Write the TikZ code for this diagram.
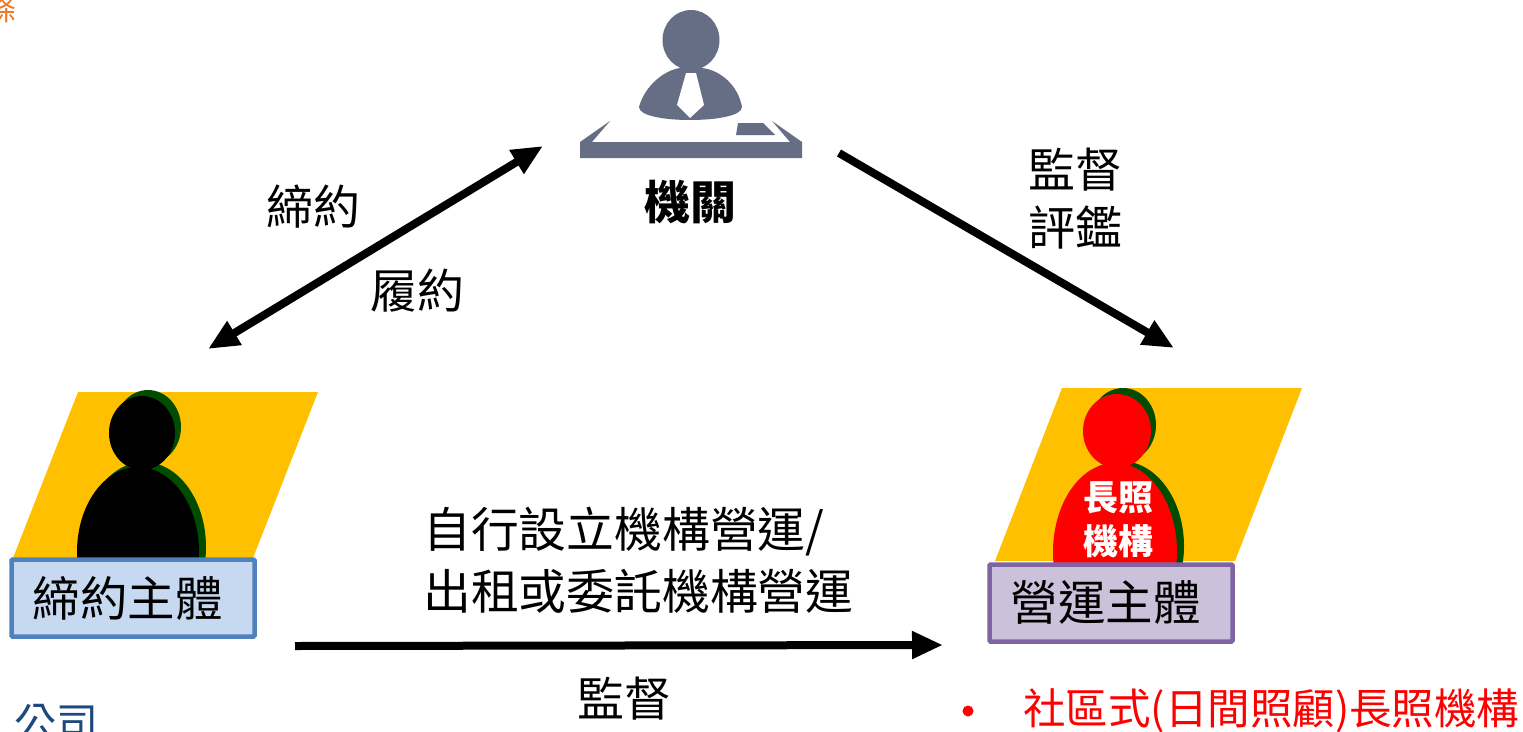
\documentclass[tikz,border=0pt]{standalone}
\usepackage{fontspec}
\usetikzlibrary{arrows.meta}
\setmainfont{Noto Sans CJK TC}
\definecolor{slate}{HTML}{656E84}
\definecolor{gold}{HTML}{FFC000}
\definecolor{shadowgreen}{HTML}{004D00}
\definecolor{bluefill}{HTML}{C6D9F1}
\definecolor{blueline}{HTML}{4F81BD}
\definecolor{purplefill}{HTML}{CCC1DA}
\definecolor{purpleline}{HTML}{8064A2}
\definecolor{navytext}{HTML}{1F497D}
\definecolor{orangetext}{HTML}{F07820}
\tikzset{
  x=1pt,y=-1pt,
  lbl/.style={inner sep=0pt,font=\fontsize{47}{47}\selectfont,text=black},
  flow/.style={line width=8pt,-{Triangle[length=31pt,width=26pt]}},
  flowboth/.style={line width=8pt,{Triangle[length=31pt,width=26pt]}-{Triangle[length=31pt,width=26pt]}},
  subject/.style={inner sep=0pt,line width=4.5pt,rounded corners=1pt,minimum height=77pt,minimum width=243pt,font=\fontsize{47.5}{47.5}\selectfont},
  band/.style={fill=gold,draw=none},
  whitelbl/.style={inner sep=0pt,text=white,font=\fontsize{35}{35}\selectfont\bfseries}
}
\begin{document}
\begin{tikzpicture}
\useasboundingbox (0,0) rectangle (1523,731);
\clip (0,0) rectangle (1523,731);
\fill[white] (0,0) rectangle (1523,731);

% official icon
\fill[slate] (691,40) ellipse [x radius=28.5,y radius=30];
\fill[slate] (639,107) .. controls (645,85) and (665,70) .. (680,68) -- (702,68)
  .. controls (720,70) and (738,85) .. (742,107) .. controls (742,116) and (715,120) .. (690,120)
  .. controls (665,120) and (639,116) .. (639,107) -- cycle;
\fill[white] (686,73) -- (696,73) -- (704,105) -- (690,118) -- (677,105) -- cycle;
\fill[slate] (580,142) -- (610,121) -- (592,142) -- (790,142) -- (772,121) -- (802,142) -- (802,158) -- (580,158) -- cycle;
\fill[slate] (738,123) -- (763,123) -- (775,135) -- (736,135) -- cycle;
\node[inner sep=0pt,font=\fontsize{46}{46}\selectfont\bfseries] (jiguan) at (690,202) {機關};

% left subject
\fill[band] (78,392) -- (318,392) -- (253,558) -- (13,558) -- cycle;
\begin{scope}
\clip (0,380) rectangle (400,558);
\fill[shadowgreen] (148,427) ellipse [x radius=33,y radius=37];
\fill[shadowgreen] (144,547) ellipse [x radius=62,y radius=85];
\fill[black] (142,433) ellipse [x radius=33,y radius=37];
\fill[black] (138,552) ellipse [x radius=61,y radius=85];
\end{scope}
\node[subject,draw=blueline,fill=bluefill,anchor=center] (contract) at (133,598) {締約主體\rule{11pt}{0pt}};

% right subject
\fill[band] (1062,388) -- (1302,388) -- (1235,561) -- (995,561) -- cycle;
\begin{scope}
\clip (900,380) rectangle (1400,562);
\fill[shadowgreen] (1123,425) ellipse [x radius=33,y radius=37];
\fill[shadowgreen] (1121,546) ellipse [x radius=63,y radius=85];
\fill[red] (1117,431) ellipse [x radius=34,y radius=37];
\fill[red] (1115,552) ellipse [x radius=62,y radius=89];
\end{scope}
\node[whitelbl] (chang) at (1118,498) {長照};
\node[whitelbl] (jigou) at (1118,541) {機構};
\node[subject,draw=purpleline,fill=purplefill,anchor=center] (operate) at (1111,603) {營運主體\rule{11pt}{0pt}};

% connectors
\coordinate (a1) at (208,349);
\coordinate (a2) at (543,146);
\coordinate (b1) at (839,153);
\coordinate (b2) at (1174,348);
\coordinate (c1) at (295,646);
\coordinate (c2) at (943,645);
\draw[flowboth] (a1) -- (a2);
\draw[flow] (b1) -- (b2);
\draw[flow] (c1) -- (c2);

% labels
\node[lbl] (l1) at (313,207) {締約};
\node[lbl] (l2) at (417,291) {履約};
\node[lbl] (l3) at (1075,170) {監督};
\node[lbl] (l4) at (1075,227) {評鑑};
\node[lbl,anchor=west,font=\fontsize{47.8}{47.8}\selectfont] (l5) at (423,532) {自行設立機構營運/};
\node[lbl,anchor=west,font=\fontsize{47.8}{47.8}\selectfont] (l6) at (423,591) {出租或委託機構營運};
\node[lbl] (l7) at (624,699) {監督};
\node[lbl,anchor=west,text=navytext,font=\fontsize{42}{42}\selectfont] (gs) at (14,723) {公司};
\fill[red] (968,711) circle (5.5);
\node[lbl,anchor=west,text=red,font=\fontsize{42.5}{42.5}\selectfont] (sq) at (1023,711) {社區式(日間照顧)長照機構};
\node[lbl,text=orangetext,font=\fontsize{30}{30}\selectfont] (tiao) at (2,9) {條};
\end{tikzpicture}
\end{document}
